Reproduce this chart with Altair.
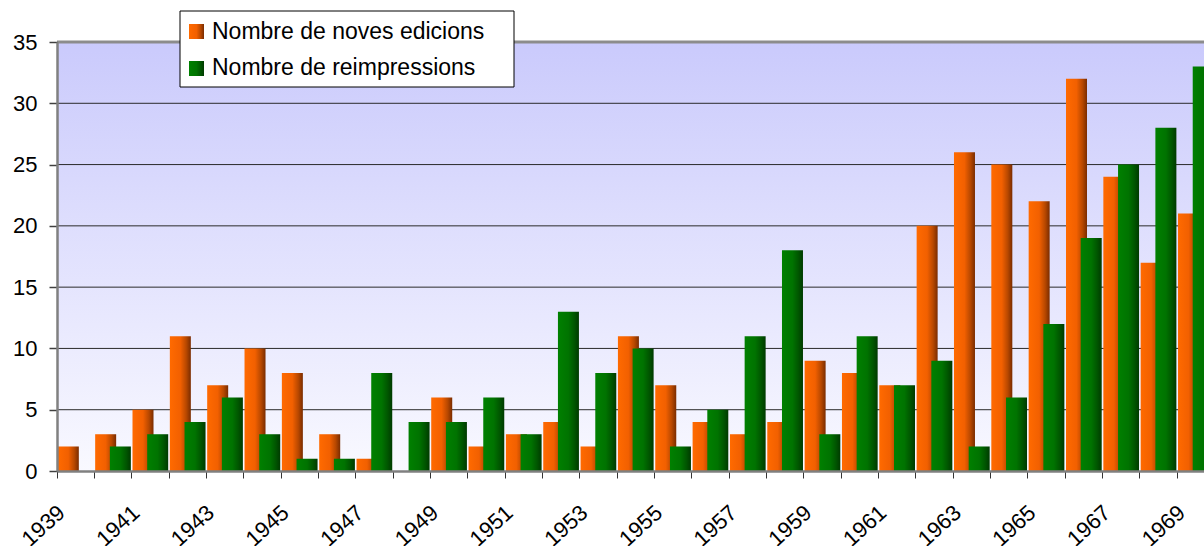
import altair as alt
import pandas as pd

# Yearly counts of new editions and reprints, 1939-1969
years = [str(y) for y in range(1939, 1970)]
noves_edicions = [2, 3, 5, 11, 7, 10, 8, 3, 1, 0,
                  6, 2, 3, 4, 2, 11, 7, 4, 3, 4,
                  9, 8, 7, 20, 26, 25, 22, 32, 24, 17,
                  21]
reimpressions = [0, 2, 3, 4, 6, 3, 1, 1, 8, 4,
                 4, 6, 3, 13, 8, 10, 2, 5, 11, 18,
                 3, 11, 7, 9, 2, 6, 12, 19, 25, 28,
                 33]
series_names = ["Nombre de noves edicions", "Nombre de reimpressions"]
y_ticks = [0, 5, 10, 15, 20, 25, 30, 35]
grid_values = [5, 10, 15, 20, 25, 30]

FONT = "Liberation Sans"
W, H = 1147, 429          # visible plot area
BAND = 37.34               # width of one year slot
FULL = BAND * len(years)   # the last slot runs past the right edge

df = pd.DataFrame({"any": years, "noves": noves_edicions, "reimp": reimpressions})
one = pd.DataFrame({"k": [0]})


def grad(c0, c1, c2, c3):
    return alt.LinearGradient(
        gradient="linear", x1=0, y1=0, x2=1, y2=0,
        stops=[alt.GradientStop(color=c0, offset=0),
               alt.GradientStop(color=c1, offset=0.5),
               alt.GradientStop(color=c2, offset=0.78),
               alt.GradientStop(color=c3, offset=1)])


orange = grad("#FF6A00", "#F26000", "#B84800", "#7A2C00")
green = grad("#008000", "#007300", "#005600", "#003A00")
backdrop = alt.LinearGradient(
    gradient="linear", x1=0, y1=0, x2=0, y2=1,
    stops=[alt.GradientStop(color="#CACAFC", offset=0),
           alt.GradientStop(color="#F9F9FF", offset=1)])

x_scale = alt.Scale(domain=years, range=[0, FULL], paddingInner=0, paddingOuter=0)
y_scale = alt.Scale(domain=[0, 35], nice=False, zero=True)

x_axis = alt.Axis(
    bandPosition=0, labelAngle=-42, labelAlign="right", labelBaseline="middle",
    labelExpr="toNumber(datum.value) % 2 == 1 ? datum.value : ''",
    labelFontSize=22, labelFont=FONT, labelColor="black",
    labelPadding=31, labelOffset=-14, labelOverlap=False,
    tickSize=7, tickColor="#333333", tickWidth=1,
    domainColor="#808080", domainWidth=2.5, grid=False, zindex=1, title=None)
y_axis = alt.Axis(
    values=y_ticks, grid=False, tickSize=8, tickColor="#404040", tickWidth=1.5,
    domainColor="#808080", domainWidth=2.5,
    labelFontSize=22, labelFont=FONT, labelColor="black", labelPadding=12,
    zindex=1, title=None)


def xenc(field):
    return alt.X(field, type="ordinal", scale=x_scale, axis=x_axis)


def yenc(field):
    return alt.Y(field, type="quantitative", scale=y_scale, axis=y_axis)


background = alt.Chart(one).mark_rect(color=backdrop).encode(
    x=alt.value(0), x2=alt.value(W), y=alt.value(0), y2=alt.value(H))

grid = alt.Chart(pd.DataFrame({"v": grid_values})).mark_rule(
    color="#2A2A2A", strokeWidth=1).encode(y=yenc("v"))

bars_new = alt.Chart(df).mark_bar(width=21, xOffset=-7.35, color=orange, clip=True).encode(
    x=xenc("any"), y=yenc("noves"))

bars_re = alt.Chart(df).mark_bar(width=21, xOffset=7.35, color=green, clip=True).encode(
    x=xenc("any"), y=yenc("reimp"))

top_edge = alt.Chart(pd.DataFrame({"v": [35]})).mark_rule(
    color="#8C8C8C", strokeWidth=3).encode(y=yenc("v"))

# Legend box with gradient swatches
legend_box = alt.Chart(one).mark_rect(fill="white", stroke="black", strokeWidth=1).encode(
    x=alt.value(123), x2=alt.value(457), y=alt.value(-31), y2=alt.value(45))
swatch_new = alt.Chart(one).mark_rect(color=orange).encode(
    x=alt.value(132), x2=alt.value(147), y=alt.value(-18), y2=alt.value(-3))
swatch_re = alt.Chart(one).mark_rect(color=green).encode(
    x=alt.value(132), x2=alt.value(147), y=alt.value(19), y2=alt.value(34))
label_new = alt.Chart(one).mark_text(
    align="left", baseline="alphabetic", font=FONT, fontSize=23, color="black").encode(
    x=alt.value(155), y=alt.value(-3.5), text=alt.value(series_names[0]))
label_re = alt.Chart(one).mark_text(
    align="left", baseline="alphabetic", font=FONT, fontSize=23, color="black").encode(
    x=alt.value(155), y=alt.value(33), text=alt.value(series_names[1]))

chart = alt.layer(
    background, grid, bars_new, bars_re, top_edge,
    legend_box, swatch_new, swatch_re, label_new, label_re
).properties(
    width=W, height=H,
    autosize=alt.AutoSizeParams(type="none"),
    padding={"left": 57, "top": 42, "right": 0, "bottom": 75},
).configure_view(strokeWidth=0).configure(font=FONT, background="white")

chart.save("out.html", embed_options={"renderer": "svg", "actions": False})
